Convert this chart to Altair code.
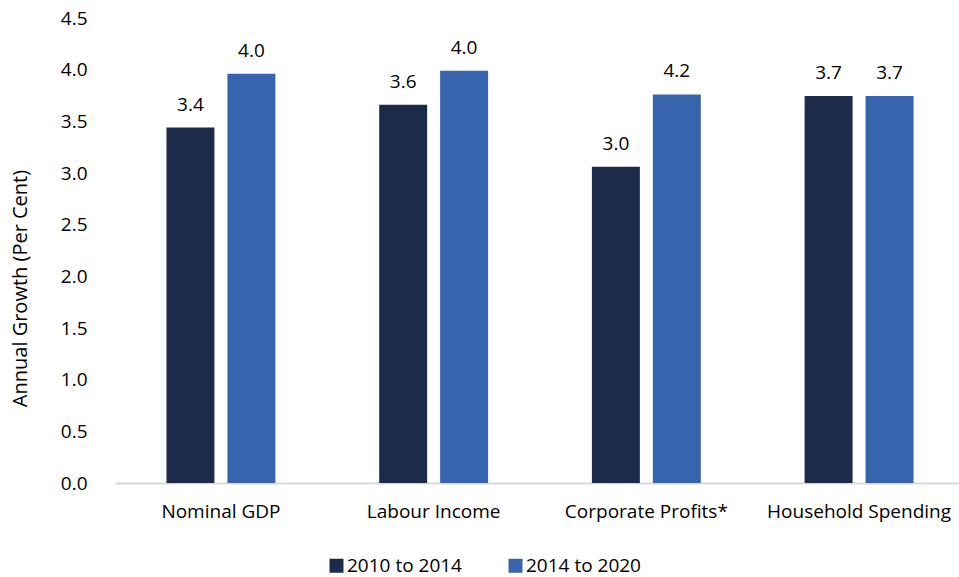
import altair as alt
import pandas as pd

categories = ["Nominal GDP", "Labour Income", "Corporate Profits*", "Household Spending"]
series = ["2010 to 2014", "2014 to 2020"]
values_2010_2014 = [3.44, 3.66, 3.06, 3.745]
values_2014_2020 = [3.96, 3.99, 3.76, 3.745]
labels_2010_2014 = ["3.4", "3.6", "3.0", "3.7"]
labels_2014_2020 = ["4.0", "4.0", "4.2", "3.7"]
colors = ["#1c2b49", "#3864ad"]

rows = []
for i, c in enumerate(categories):
    rows.append({"cat": c, "series": series[0], "value": values_2010_2014[i], "label": labels_2010_2014[i]})
    rows.append({"cat": c, "series": series[1], "value": values_2014_2020[i], "label": labels_2014_2020[i]})
df = pd.DataFrame(rows)

FONT = "Open Sans"
FS = 19

x = alt.X("cat:N", sort=categories, title=None,
          scale=alt.Scale(paddingInner=0.488, paddingOuter=0.242, range=[0, 850]),
          axis=alt.Axis(labelAngle=0, labelFontSize=FS, labelColor="#000000", labelFont=FONT,
                        labelLimit=400, labelOverlap=False,
                        ticks=False, domainColor="#d9d9d9", domainWidth=2, labelPadding=19))
xoff = alt.XOffset("series:N", sort=series, scale=alt.Scale(paddingInner=0.213, paddingOuter=0))
y = alt.Y("value:Q", title="Annual Growth (Per Cent)",
          scale=alt.Scale(domain=[0, 4.5], nice=False),
          axis=alt.Axis(values=[0, 0.5, 1, 1.5, 2, 2.5, 3, 3.5, 4, 4.5], format=".1f",
                        grid=False, domain=False, ticks=False, labelFontSize=FS,
                        labelColor="#000000", labelFont=FONT, labelPadding=28,
                        titleFont=FONT, titleFontSize=20, titleFontWeight="normal",
                        titleColor="#000000", titleAngle=270, titleAlign="center",
                        titleBaseline="middle", titleX=-95, titleY=270))

color = alt.Color("series:N", sort=series,
                  scale=alt.Scale(domain=series, range=colors),
                  legend=alt.Legend(title=None, orient="none", direction="horizontal",
                                    legendX=212, legendY=538, padding=0,
                                    symbolType="square", symbolSize=196,
                                    symbolStrokeWidth=0, symbolOpacity=1,
                                    labelFontSize=FS, labelFont=FONT, labelColor="#000000",
                                    columnPadding=44, labelOffset=1))

bars = alt.Chart(df).mark_bar(stroke=None).encode(x=x, xOffset=xoff, y=y, color=color)
text = alt.Chart(df).mark_text(baseline="bottom", dy=-13, fontSize=FS, font=FONT, color="#000000").encode(
    x=x, xOffset=xoff, y=y, text="label:N")

chart = (bars + text).properties(
    width=844, height=465,
    background="#ffffff",
    autosize=alt.AutoSizeParams(type="none"),
    padding={"left": 115, "top": 18, "right": 0, "bottom": 94},
).configure_view(stroke=None)

chart.save("out.html", embed_options={"renderer": "svg", "actions": False})
